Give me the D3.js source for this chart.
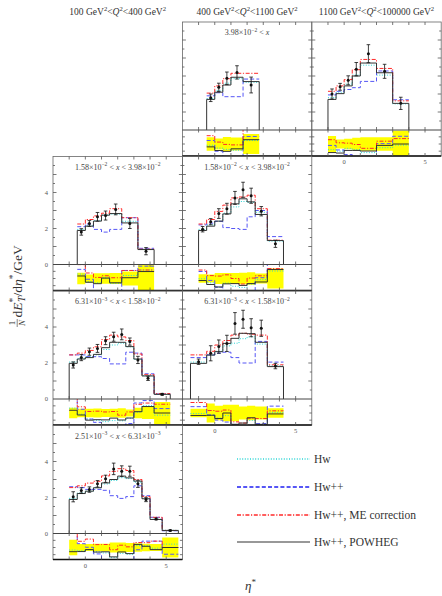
<!DOCTYPE html>
<html>
<head>
<meta charset="utf-8">
<script src="https://cdn.jsdelivr.net/npm/d3@7"></script>
<style>
  body { margin: 0; background: #fff; }
  svg { display: block; }
</style>
</head>
<body>
<svg id="chart" width="442" height="596"></svg>
<script>
// ---- data: transverse energy flow vs eta* in (x, Q^2) bins ----
const q2Bins = [[100, 400], [400, 1100], [1100, 100000]];
const xLow  = [[3.98, -2], null, [1.58, -2], [1.58, -2], [6.31, -3], [6.31, -3], [2.51, -3]];
const xHigh = [null, null, [3.98, -2], [3.98, -2], [1.58, -2], [1.58, -2], [6.31, -3]];

const binEdges = [
  [-0.5, 0, 0.5, 1, 1.75, 2.75],
  [-1, -0.5, 0, 0.5, 1, 2, 3, 4],
  [-0.5, 0, 0.5, 1, 1.5, 2.25, 3.25, 4.25],
  [-1, -0.5, 0, 0.5, 1, 1.5, 2, 2.5, 3.25, 4.25],
  [-1, -0.5, 0, 0.5, 1, 1.5, 2, 2.5, 3, 3.5, 4.25, 5.25],
  [-1.5, -0.5, 0, 0.5, 1, 1.5, 2, 2.5, 3.25, 4.25],
  [-1, -0.5, 0, 0.5, 1, 1.5, 2, 2.5, 3, 3.5, 4, 4.75, 5.75]
];
const dataY = [
  [1.79, 2.37, 2.87, 3.2, 2.5],
  [2.0, 2.4, 2.76, 3.38, 4.24, 3.26, 1.48],
  [1.81, 2.28, 2.65, 2.72, 3.06, 2.28, 0.74],
  [1.96, 2.38, 2.83, 3.1, 3.7, 4.15, 3.82, 2.96, 1.15],
  [1.89, 2.3, 2.63, 2.81, 3.24, 3.46, 3.59, 3.19, 2.17, 1.15, 0.26],
  [2.07, 2.54, 2.91, 3.09, 4.2, 4.43, 3.96, 3.93, 1.83],
  [2.04, 2.39, 2.44, 2.76, 3.04, 3.59, 3.46, 3.46, 2.76, 1.89, 0.81, 0.17]
];
const dataErr = [
  [0.21, 0.23, 0.35, 0.37, 0.44],
  [0.28, 0.19, 0.25, 0.37, 0.5, 0.39, 0.34],
  [0.18, 0.16, 0.24, 0.25, 0.3, 0.28, 0.2],
  [0.15, 0.17, 0.27, 0.3, 0.36, 0.42, 0.42, 0.26, 0.2],
  [0.17, 0.17, 0.2, 0.22, 0.22, 0.25, 0.3, 0.2, 0.2, 0.12, 0.05],
  [0.15, 0.42, 0.37, 0.45, 0.6, 0.5, 0.5, 0.45, 0.15],
  [0.28, 0.15, 0.15, 0.18, 0.2, 0.32, 0.3, 0.28, 0.2, 0.12, 0.05, 0.03]
];
const hwY = [
  [1.75, 2.2, 2.6, 2.85, 2.65],
  [1.8, 2.1, 2.55, 3.05, 3.6, 3.05, 1.45],
  [1.95, 2.15, 2.45, 2.75, 2.8, 2.4, 0.85],
  [1.95, 2.2, 2.4, 2.85, 3.2, 3.5, 3.45, 2.9, 1.3],
  [2.05, 2.25, 2.35, 2.45, 2.75, 3.0, 3.1, 2.9, 2.2, 1.3, 0.25],
  [2.05, 2.45, 2.65, 2.95, 3.1, 3.35, 3.45, 3.05, 1.85],
  [1.95, 2.25, 2.35, 2.55, 2.75, 2.95, 3.1, 3.05, 2.85, 1.95, 0.8, 0.18]
];
const hwppY = [
  [1.9, 2.07, 1.85, 1.85, 2.83],
  [1.95, 2.15, 2.25, 2.35, 2.7, 3.28, 1.68],
  [2.1, 2.25, 1.95, 1.8, 1.95, 2.6, 0.9],
  [2.2, 2.3, 2.4, 2.05, 2.0, 1.95, 2.65, 3.0, 1.55],
  [2.45, 2.45, 2.35, 2.35, 2.25, 1.95, 1.95, 2.6, 2.55, 1.4, 0.28],
  [2.3, 2.45, 2.55, 2.6, 2.3, 2.0, 2.0, 3.2, 2.05],
  [2.6, 2.55, 2.45, 2.45, 2.4, 2.1, 1.95, 2.05, 2.65, 2.1, 0.9, 0.15]
];
const meY = [
  [2.05, 2.45, 2.85, 3.15, 3.15],
  [2.15, 2.45, 2.8, 3.35, 3.92, 3.42, 1.62],
  [2.25, 2.5, 2.7, 2.85, 3.1, 2.6, 0.85],
  [2.25, 2.5, 2.95, 3.3, 3.7, 3.75, 3.85, 3.1, 1.35],
  [2.45, 2.55, 2.7, 2.9, 3.3, 3.55, 3.45, 3.25, 2.5, 1.35, 0.3],
  [2.45, 2.65, 3.0, 3.25, 3.55, 3.65, 3.6, 3.55, 1.9],
  [2.55, 2.65, 2.8, 2.9, 3.2, 3.45, 3.6, 3.5, 3.0, 2.05, 0.9, 0.17]
];
const powhegY = [
  [1.7, 2.1, 2.5, 2.93, 2.69],
  [1.7, 2.02, 2.45, 3.0, 3.72, 3.18, 1.48],
  [1.89, 2.13, 2.41, 2.74, 2.83, 2.31, 0.83],
  [1.89, 2.13, 2.41, 2.81, 3.37, 3.65, 3.48, 2.78, 1.33],
  [1.98, 2.22, 2.3, 2.48, 2.85, 3.15, 3.15, 2.91, 2.22, 1.28, 0.26],
  [1.98, 2.44, 2.63, 3.09, 3.37, 3.65, 3.63, 3.15, 1.8],
  [1.89, 2.22, 2.35, 2.54, 2.81, 3.0, 3.19, 3.09, 2.91, 1.93, 0.78, 0.17]
];
const yTickLabels = [0, 2, 4];
const xTickLabels = [0, 5];
const legendNames = ["Hw", "Hw++", "Hw++, ME correction", "Hw++, POWHEG"];

// ---- layout ----
const PW = 129.4, MAIN_H = 108, RAT_H = 26, ROW_STEP = 134.5, LEFT0 = 53, TOP0 = 22;
const cells = [[0, 1], [0, 2], [1, 0], [1, 1], [2, 0], [2, 1], [3, 0]];
const openBottom = [false, true, false, false, false, true, true];
const FONT = "'Liberation Serif', 'DejaVu Serif', serif";

const series = [
  { vals: hwY,     color: "#2ed6d6", dash: "1,1.6",         w: 1, lw: 1.4 },
  { vals: hwppY,   color: "#5656f5", dash: "4,2.2",         w: 1, lw: 2 },
  { vals: meY,     color: "#ff2a2a", dash: "4,1.6,1.2,1.6", w: 1, lw: 1.4 },
  { vals: powhegY, color: "#333333", dash: null,            w: 1, lw: 1.2 }
];

const svg = d3.select("#chart");

// text with super/subscripts
function rich(sel, parts, fs) {
  let off = 0;
  parts.forEach(p => {
    const target = p.sup ? -0.38 * fs : p.sub ? 0.25 * fs : 0;
    const ts = sel.append("tspan").text(p.t).attr("dy", (target - off).toFixed(2));
    off = target;
    if (p.sup || p.sub) ts.attr("font-size", (fs * 0.7).toFixed(2));
    if (p.it) ts.attr("font-style", "italic");
    if (p.dx) ts.attr("dx", p.dx);
  });
}
function sci(m, e) {
  return [{ t: m.toFixed(2) + "×10" }, { t: "−" + Math.abs(e), sup: true }];
}

// column headers (Q^2 ranges)
q2Bins.forEach((q, c) => {
  const cx = LEFT0 + c * PW + PW / 2;
  const t = svg.append("text").attr("x", cx).attr("y", 15)
    .attr("text-anchor", "middle").attr("font-family", FONT)
    .attr("font-size", 9.5).attr("fill", "#333");
  rich(t, [
    { t: q[0] + " GeV" }, { t: "2", sup: true }, { t: "<" }, { t: "Q", it: true },
    { t: "2", sup: true }, { t: "<" + q[1] + " GeV" }, { t: "2", sup: true }
  ], 9.5);
});

const defs = svg.append("defs");

cells.forEach(([row, col], i) => {
  const left = LEFT0 + col * PW;
  const top = TOP0 + row * ROW_STEP;
  const zero = top + MAIN_H;
  const bottom = zero + RAT_H;
  const x = d3.scaleLinear().domain([-2, 6]).range([left, left + PW]);
  const y = d3.scaleLinear().domain([0, 6]).range([zero, top]);
  const yr = d3.scaleLinear().domain([0.79, 1.245]).range([bottom, zero]);
  const g = svg.append("g");

  const edges = binEdges[i];
  const n = edges.length - 1;

  // clip for ratio panel
  const clipId = "rc" + i;
  defs.append("clipPath").attr("id", clipId).append("rect")
    .attr("x", left).attr("y", zero).attr("width", PW).attr("height", RAT_H);

  const stepPts = vals => {
    const pts = vals.map((v, k) => [edges[k], v]);
    pts.push([edges[n], vals[n - 1]]);
    return pts;
  };
  const lineMain = d3.line().x(d => x(d[0])).y(d => y(d[1])).curve(d3.curveStepAfter);
  const lineRat = d3.line().x(d => x(d[0])).y(d => yr(d[1])).curve(d3.curveStepAfter);

  // data uncertainty band in ratio panel
  const relErr = dataErr[i].map((e, k) => e / dataY[i][k]);
  const bandPts = relErr.map((r, k) => [edges[k], 1 - r, 1 + r]);
  bandPts.push([edges[n], 1 - relErr[n - 1], 1 + relErr[n - 1]]);
  g.append("path")
    .attr("d", d3.area().x(d => x(d[0])).y0(d => yr(d[1])).y1(d => yr(d[2]))
      .curve(d3.curveStepAfter)(bandPts))
    .attr("fill", "#ffff00").attr("clip-path", `url(#${clipId})`);

  // generator histograms and ratios to data
  series.forEach((s, si) => {
    const vals = s.vals[i];
    let pts = stepPts(vals);
    if (si === 3) pts = [[edges[0], 0], ...pts, [edges[n], 0]];
    const p = g.append("path").attr("d", lineMain(pts))
      .attr("fill", "none").attr("stroke", s.color).attr("stroke-width", s.w);
    if (s.dash) p.attr("stroke-dasharray", s.dash);
    const ratios = vals.map((v, k) => v / dataY[i][k]);
    const rp = g.append("path").attr("d", lineRat(stepPts(ratios)))
      .attr("fill", "none").attr("stroke", s.color).attr("stroke-width", s.w)
      .attr("clip-path", `url(#${clipId})`);
    if (s.dash) rp.attr("stroke-dasharray", s.dash);
  });

  // data points with error bars
  dataY[i].forEach((v, k) => {
    const cx = x((edges[k] + edges[k + 1]) / 2);
    const e = dataErr[i][k];
    g.append("line").attr("x1", cx).attr("x2", cx).attr("y1", y(v - e)).attr("y2", y(v + e))
      .attr("stroke", "#111").attr("stroke-width", 0.8);
    [v - e, v + e].forEach(yy => g.append("line")
      .attr("x1", cx - 1.8).attr("x2", cx + 1.8).attr("y1", y(yy)).attr("y2", y(yy))
      .attr("stroke", "#111").attr("stroke-width", 0.8));
    g.append("circle").attr("cx", cx).attr("cy", y(v)).attr("r", 1.5).attr("fill", "#111");
  });

  // frames
  g.append("rect").attr("x", left).attr("y", top).attr("width", PW).attr("height", bottom - top)
    .attr("fill", "none").attr("stroke", "#666").attr("stroke-width", 0.8);
  g.append("line").attr("x1", left).attr("x2", left + PW).attr("y1", zero).attr("y2", zero)
    .attr("stroke", "#444").attr("stroke-width", 1);
  g.append("line").attr("x1", left).attr("x2", left + PW).attr("y1", bottom).attr("y2", bottom)
    .attr("stroke", "#111").attr("stroke-width", 1.6);

  // ticks
  const tk = (x1, y1, x2, y2) => g.append("line").attr("x1", x1).attr("y1", y1)
    .attr("x2", x2).attr("y2", y2).attr("stroke", "#555").attr("stroke-width", 0.8);
  d3.range(-1, 6).forEach(v => {
    const xx = x(v);
    tk(xx, top, xx, top + 3);
    tk(xx, zero, xx, zero - 3);
    tk(xx, zero, xx, zero + 2.5);
    tk(xx, bottom, xx, bottom - 3);
  });
  d3.range(0.5, 6, 0.5).forEach(v => {
    const len = Number.isInteger(v) ? 3.5 : 2;
    tk(left, y(v), left + len, y(v));
    tk(left + PW, y(v), left + PW - len, y(v));
  });
  [0.875, 1.0, 1.125].forEach(v => {
    tk(left, yr(v), left + 2.5, yr(v));
    tk(left + PW, yr(v), left + PW - 2.5, yr(v));
  });

  // tick labels
  if (col === 0) {
    yTickLabels.forEach(v => g.append("text").attr("x", left - 5).attr("y", y(v) + 2)
      .attr("text-anchor", "end").attr("font-family", FONT).attr("font-size", 6.5)
      .attr("fill", "#555").text(v));
  }
  if (openBottom[i]) {
    xTickLabels.forEach(v => g.append("text").attr("x", x(v)).attr("y", bottom + 8)
      .attr("text-anchor", "middle").attr("font-family", FONT).attr("font-size", 6.5)
      .attr("fill", "#555").text(v));
  }

  // x-bin label
  if (xLow[i]) {
    let parts = [...sci(...xLow[i]), { t: " < " }, { t: "x", it: true }];
    if (xHigh[i]) parts = parts.concat([{ t: " < " }, ...sci(...xHigh[i])]);
    const t = g.append("text").attr("x", left + PW / 2).attr("y", top + 13)
      .attr("text-anchor", "middle").attr("font-family", FONT)
      .attr("font-size", 8).attr("fill", "#444");
    rich(t, parts, 8);
  }
});

// y-axis title
const yt = svg.append("g").attr("transform", "translate(19,266) rotate(-90)");
const fs = 13.5;
yt.append("text").attr("x", -57).attr("y", -4.5).attr("text-anchor", "middle")
  .attr("font-family", FONT).attr("font-size", 9).attr("fill", "#333").text("1");
yt.append("line").attr("x1", -61).attr("x2", -53).attr("y1", -1.8).attr("y2", -1.8)
  .attr("stroke", "#333").attr("stroke-width", 0.6);
yt.append("text").attr("x", -57).attr("y", 6).attr("text-anchor", "middle")
  .attr("font-family", FONT).attr("font-size", 9).attr("font-style", "italic")
  .attr("fill", "#333").text("N");
const ytt = yt.append("text").attr("x", -51.5).attr("y", 2.5).attr("font-family", FONT)
  .attr("font-size", fs).attr("fill", "#333");
rich(ytt, [
  { t: "d" }, { t: "E", it: true }, { t: "*", sup: true }, { t: "T", sub: true, it: true, dx: -4 },
  { t: "/d" }, { t: "η", it: true }, { t: "*", sup: true }, { t: "/GeV" }
], fs);

// x-axis title
const xt = svg.append("text").attr("x", 245).attr("y", 590).attr("font-family", FONT)
  .attr("font-size", 13).attr("fill", "#333");
rich(xt, [{ t: "η", it: true }, { t: "*", sup: true }], 13);

// legend
const legY = [459, 487, 515, 542];
legendNames.forEach((name, k) => {
  const s = series[k];
  const l = svg.append("line").attr("x1", 237).attr("x2", 310)
    .attr("y1", legY[k]).attr("y2", legY[k])
    .attr("stroke", s.color).attr("stroke-width", s.lw);
  if (s.dash) l.attr("stroke-dasharray", s.dash);
  svg.append("text").attr("x", 314).attr("y", legY[k] + 3.5)
    .attr("font-family", FONT).attr("font-size", 11.5).attr("fill", "#333").text(name);
});
</script>
</body>
</html>
